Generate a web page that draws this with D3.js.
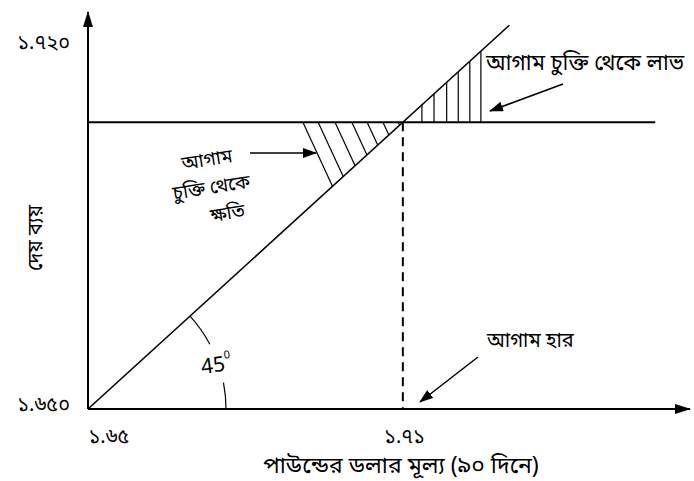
<!DOCTYPE html>
<html>
<head>
<meta charset="utf-8">
<script src="https://cdn.jsdelivr.net/npm/d3@7"></script>
<style>
  body { margin: 0; background: #fff; }
  svg text { font-family: "Noto Sans Bengali", "Noto Sans", "DejaVu Sans", sans-serif; fill: #000; }
</style>
</head>
<body>
<div id="chart"></div>
<script>
// values
const xTickValues = [1.65, 1.71];
const xTickLabels = ["১.৬৫", "১.৭১"];
const yTickValues = [1.65, 1.72];
const yTickLabels = ["১.৬৫০", "১.৭২০"];

const forwardRate = 1.7047;          // horizontal line (আগাম হার)
const forwardLineEnd = 1.7577;
const diagonal = [[1.65, 1.65], [1.73, 1.7232]];
const xAxisMax = 1.7643;
const yAxisMax = 1.7257;

const lossHatch = [1.6908, 1.6937, 1.6969, 1.7001, 1.7030, 1.7060, 1.7089];
const profitHatch = [1.7134, 1.7157, 1.7181, 1.7203, 1.7225, 1.7246];

const xTitle = "পাউন্ডের ডলার মূল্য (৯০ দিনে)";
const yTitle = "দেয় ব্যয়";
const lossLabel = ["আগাম", "চুক্তি থেকে", "ক্ষতি"];
const profitLabel = "আগাম চুক্তি থেকে লাভ";
const rateLabel = "আগাম হার";

let width = 694;
let height = 481;

const svg = d3.select("#chart")
  .append("svg")
  .attr("width", width)
  .attr("height", height);

let x = d3.scaleLinear().domain([1.65, 1.71]).range([88, 404]);
let y = d3.scaleLinear().domain([1.65, 1.72]).range([409, 42]);

let defs = svg.append("defs");
defs.append("marker")
  .attr("id", "axisHead")
  .attr("viewBox", "0 0 16 10")
  .attr("refX", 15).attr("refY", 5)
  .attr("markerWidth", 16).attr("markerHeight", 10)
  .attr("markerUnits", "userSpaceOnUse")
  .attr("orient", "auto")
  .append("path").attr("d", "M0,0 L16,5 L0,10 Z").attr("fill", "#000");

defs.append("marker")
  .attr("id", "smallHead")
  .attr("viewBox", "0 0 14 10")
  .attr("refX", 13).attr("refY", 5)
  .attr("markerWidth", 14).attr("markerHeight", 10)
  .attr("markerUnits", "userSpaceOnUse")
  .attr("orient", "auto")
  .append("path").attr("d", "M0,0 L14,5 L0,10 Z").attr("fill", "#000");

// axes lines with arrows
svg.append("line")
  .attr("x1", x(1.65)).attr("y1", y(1.65))
  .attr("x2", x(1.65)).attr("y2", y(yAxisMax))
  .attr("stroke", "#000").attr("stroke-width", 2)
  .attr("marker-end", "url(#axisHead)");

svg.append("line")
  .attr("x1", x(1.65)).attr("y1", y(1.65))
  .attr("x2", x(xAxisMax)).attr("y2", y(1.65))
  .attr("stroke", "#000").attr("stroke-width", 2)
  .attr("marker-end", "url(#axisHead)");

// tick labels via d3 axes, no tick marks
let xAxis = svg.append("g")
  .attr("transform", `translate(0,${y(1.65)})`)
  .call(d3.axisBottom(x).tickValues(xTickValues).tickSize(0).tickPadding(20)
    .tickFormat((d, i) => xTickLabels[i]));
xAxis.select(".domain").remove();
xAxis.selectAll("text").attr("font-size", 20).attr("font-family", null)
  .attr("text-anchor", (d, i) => i == 0 ? "start" : "middle");

let yAxis = svg.append("g")
  .attr("transform", `translate(${x(1.65)},0)`)
  .call(d3.axisLeft(y).tickValues(yTickValues).tickSize(0).tickPadding(18)
    .tickFormat((d, i) => yTickLabels[i]));
yAxis.select(".domain").remove();
yAxis.selectAll("text").attr("font-size", 20).attr("font-family", null)
  .attr("dy", (d, i) => i == 0 ? "0.05em" : "0.32em");

// forward rate line
svg.append("line")
  .attr("x1", x(1.65)).attr("y1", y(forwardRate))
  .attr("x2", x(forwardLineEnd)).attr("y2", y(forwardRate))
  .attr("stroke", "#000").attr("stroke-width", 2);

// 45 degree line
let line = d3.line().x(d => x(d[0])).y(d => y(d[1]));
svg.append("path")
  .datum(diagonal)
  .attr("d", line)
  .attr("fill", "none")
  .attr("stroke", "#000").attr("stroke-width", 1.6);

let slope = (diagonal[1][1] - diagonal[0][1]) / (diagonal[1][0] - diagonal[0][0]);
let diagY = v => diagonal[0][1] + slope * (v - diagonal[0][0]);
let crossX = diagonal[0][0] + (forwardRate - diagonal[0][1]) / slope;

// dashed line at the crossing
svg.append("line")
  .attr("x1", x(crossX)).attr("y1", y(forwardRate))
  .attr("x2", x(crossX)).attr("y2", y(1.65))
  .attr("stroke", "#000").attr("stroke-width", 2)
  .attr("stroke-dasharray", "9,6");

// loss hatching: slanted lines from the forward line down to the diagonal
let hatchDx = 30, hatchDy = 65; // pixel direction of hatch lines
let pxSlope = (y(diagonal[1][1]) - y(diagonal[0][1])) / (x(diagonal[1][0]) - x(diagonal[0][0]));
svg.append("g").selectAll("line")
  .data(lossHatch)
  .join("line")
  .each(function(d) {
    let x0 = x(d), y0 = y(forwardRate);
    let cx = x(crossX);
    let t = (pxSlope * (x0 - cx)) / (hatchDy - pxSlope * hatchDx);
    d3.select(this)
      .attr("x1", x0).attr("y1", y0)
      .attr("x2", x0 + t * hatchDx).attr("y2", y0 + t * hatchDy);
  })
  .attr("stroke", "#000").attr("stroke-width", 1.2);

// profit hatching: vertical lines
svg.append("g").selectAll("line")
  .data(profitHatch)
  .join("line")
  .attr("x1", d => x(d)).attr("x2", d => x(d))
  .attr("y1", y(forwardRate)).attr("y2", d => y(diagY(d)))
  .attr("stroke", "#000").attr("stroke-width", 1.2);

// 45 degree arc, broken where the label sits
let origin = [x(1.65), y(1.65)];
let arcR = 138;
let diagAngle = Math.atan(-pxSlope);
let arcParts = [[diagAngle, 28 * Math.PI / 180], [11 * Math.PI / 180, 0]];
svg.append("g").selectAll("path")
  .data(arcParts)
  .join("path")
  .attr("d", d => {
    let a0 = d[0], a1 = d[1];
    return `M${origin[0] + arcR * Math.cos(a0)},${origin[1] - arcR * Math.sin(a0)} ` +
      `A${arcR},${arcR} 0 0 1 ${origin[0] + arcR * Math.cos(a1)},${origin[1] - arcR * Math.sin(a1)}`;
  })
  .attr("fill", "none").attr("stroke", "#000").attr("stroke-width", 1.2);

let degLabel = svg.append("text")
  .attr("transform", "translate(202,374) rotate(-8)")
  .attr("font-family", "Liberation Sans, Arial, sans-serif")
  .attr("font-size", 21);
degLabel.append("tspan").text("45");
degLabel.append("tspan").attr("font-size", 11).attr("dy", -12).text("0");

// loss label and arrow
let lossText = svg.append("text")
  .attr("transform", "translate(208,166) rotate(-9)")
  .attr("text-anchor", "middle")
  .attr("font-size", 19);
lossText.selectAll("tspan")
  .data(lossLabel)
  .join("tspan")
  .attr("x", (d, i) => i == 2 ? 12 : 0)
  .attr("dy", (d, i) => i == 0 ? 0 : 28)
  .text(d => d);

svg.append("line")
  .attr("x1", 250).attr("y1", 153)
  .attr("x2", 316).attr("y2", 153)
  .attr("stroke", "#000").attr("stroke-width", 1.5)
  .attr("marker-end", "url(#smallHead)");

// profit label and arrow
svg.append("text")
  .attr("x", 486).attr("y", 70)
  .attr("font-size", 22)
  .text(profitLabel);

svg.append("line")
  .attr("x1", 563).attr("y1", 84)
  .attr("x2", 490).attr("y2", 111)
  .attr("stroke", "#000").attr("stroke-width", 1.5)
  .attr("marker-end", "url(#smallHead)");

// forward rate label and arrow
svg.append("text")
  .attr("x", 487).attr("y", 347)
  .attr("font-size", 20)
  .text(rateLabel);

svg.append("line")
  .attr("x1", 478).attr("y1", 357)
  .attr("x2", 420).attr("y2", 402)
  .attr("stroke", "#000").attr("stroke-width", 1.5)
  .attr("marker-end", "url(#smallHead)");

// axis titles
svg.append("text")
  .attr("x", 401).attr("y", 473)
  .attr("text-anchor", "middle")
  .attr("font-size", 23)
  .text(xTitle);

svg.append("text")
  .attr("transform", "translate(42,238) rotate(-90)")
  .attr("text-anchor", "middle")
  .attr("font-size", 20)
  .text(yTitle);
</script>
</body>
</html>
